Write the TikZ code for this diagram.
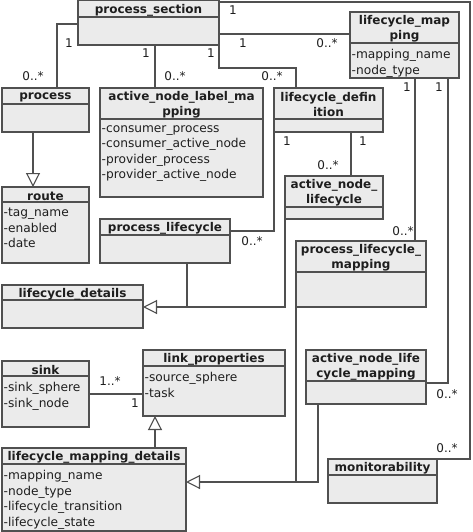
\documentclass[tikz,border=0pt]{standalone}
\usepackage{fontspec}
\setmainfont{DejaVu Sans}
\usepackage{tikz}
\usetikzlibrary{arrows.meta}

\definecolor{boxfill}{HTML}{EBEBEB}
\definecolor{linegray}{HTML}{505050}
\definecolor{textgray}{HTML}{1E1E1E}

\tikzset{
  classbox/.style={draw=linegray, fill=boxfill, line width=1.3pt, inner sep=0pt, outer sep=0pt},
  classline/.style={draw=linegray, line width=1.3pt},
  classname/.style={inner sep=0pt, align=center, text=textgray, font=\fontsize{12}{15}\selectfont\bfseries},
  classattr/.style={anchor=north west, inner xsep=1.5pt, inner ysep=6pt, align=left, text=textgray, font=\fontsize{12.2}{15.6}\selectfont},
  mult/.style={inner sep=0pt, text=textgray, font=\fontsize{12}{14}\selectfont},
  assoc/.style={draw=linegray, line width=1.1pt},
  inherit/.style={assoc, -{Triangle[open, length=14pt, width=14pt]}}
}

% name, x1, y1, x2, y2, separator, header, attributes
\newcommand{\umlclass}[8]{%
  \node[classbox, minimum width={#4-#2}, minimum height={#5-#3}] (#1) at ({(#2+#4)/2},{(#3+#5)/2}) {};
  \draw[classline] (#2,#6) -- (#4,#6);
  \node[classname] (#1-name) at ({(#2+#4)/2},{(#3+#6)/2+1.5}) {#7};
  \node[classattr] (#1-attr) at (#2,#6) {#8};
}

\begin{document}
\begin{tikzpicture}[x=1pt,y=-1pt]
    \useasboundingbox (0,0) rectangle (472,532);

    \umlclass{section}{78}{0.7}{219}{45}{17}{process\_section}{}
    \umlclass{mapping}{350}{12}{459}{78}{43}{lifecycle\_map\\ping}{-mapping\_name\\-node\_type}
    \umlclass{process}{2}{88}{89}{132}{104}{process}{}
    \umlclass{labelmap}{100}{88}{263}{197}{119}{active\_node\_label\_ma\\pping}{-consumer\_process\\-consumer\_active\_node\\-provider\_process\\-provider\_active\_node}
    \umlclass{definition}{274}{88}{383}{132}{119}{lifecycle\_defin\\ition}{}
    \umlclass{route}{2}{187}{89}{263}{202}{route}{-tag\_name\\-enabled\\-date}
    \umlclass{nodelife}{285}{176}{383}{219}{207}{active\_node\_\\lifecycle}{}
    \umlclass{proclife}{100}{219}{230}{263}{235}{process\_lifecycle}{}
    \umlclass{proclifemap}{296}{241}{426}{307}{272}{process\_lifecycle\_\\mapping}{}
    \umlclass{details}{2}{285}{143}{328}{300}{lifecycle\_details}{}
    \umlclass{sink}{2}{361}{89}{427}{376}{sink}{-sink\_sphere\\-sink\_node}
    \umlclass{link}{143}{350}{285}{416}{366}{link\_properties}{-source\_sphere\\-task}
    \umlclass{nodelifemap}{306}{350}{426}{404}{381}{active\_node\_life\\cycle\_mapping}{}
    \umlclass{mapdetails}{2}{448}{186}{531}{464}{lifecycle\_mapping\_details}{-mapping\_name\\-node\_type\\-lifecycle\_transition\\-lifecycle\_state}
    \umlclass{monitor}{328}{459}{437}{503}{475}{monitorability}{}

    % associations
    \draw[assoc] (section.west |- 0,24) -| (process.north -| 57,0);
    \draw[assoc] (section.south -| 155,0) -- (labelmap.north -| 155,0);
    \draw[assoc] (section.south east) -- (section.south east |- 0,68) -| (definition.north -| 296,0);
    \draw[assoc] (section.east |- 0,34) -- (mapping.west |- 0,34);
    \draw[assoc] (section.north east |- 0,2) -| ([xshift=33pt]monitor.north east) -- (monitor.north east);
    \draw[assoc] (mapping.south -| 415,0) -- (proclifemap.north -| 415,0);
    \draw[assoc] (mapping.south -| 448,0) |- (nodelifemap.east |- 0,383);
    \draw[assoc] (definition.south west) |- (proclife.east |- 0,231);
    \draw[assoc] (definition.south -| 351,0) -- (nodelife.north -| 351,0);
    \draw[assoc] (sink.east) -- (link.west |- sink.east);

    % generalizations
    \draw[inherit] (process.south -| 33,0) -- (route.north -| 33,0);
    \coordinate (join1) at (187,307);
    \draw[inherit] (proclife.south -| join1) -- (join1) -- (details.east |- join1);
    \draw[assoc] (nodelife.south west) |- (join1);
    \coordinate (join2) at (296,482);
    \draw[inherit] (proclifemap.south west) -- (join2) -- (mapdetails.east |- join2);
    \draw[assoc] (nodelifemap.south -| 318,0) |- (join2);
    \draw[inherit] (mapdetails.north -| 155,0) -- (link.south -| 155,0);

    % multiplicities
    \node[mult] (m1) at (69,43) {1};
    \node[mult] (m2) at (33,76) {0..*};
    \node[mult] (m3) at (146,53) {1};
    \node[mult] (m4) at (175,76) {0..*};
    \node[mult] (m5) at (211,53) {1};
    \node[mult] (m6) at (272,76) {0..*};
    \node[mult] (m7) at (233,10) {1};
    \node[mult] (m8) at (243,43) {1};
    \node[mult] (m9) at (327,43) {0..*};
    \node[mult] (m10) at (407,87) {1};
    \node[mult] (m11) at (439,87) {1};
    \node[mult] (m12) at (287,141) {1};
    \node[mult] (m13) at (363,141) {1};
    \node[mult] (m14) at (328,165) {0..*};
    \node[mult] (m15) at (252,241) {0..*};
    \node[mult] (m16) at (403,231) {0..*};
    \node[mult] (m17) at (447,394) {0..*};
    \node[mult] (m18) at (447,448) {0..*};
    \node[mult] (m19) at (110,381) {1..*};
    \node[mult] (m20) at (135,403) {1};
\end{tikzpicture}
\end{document}
